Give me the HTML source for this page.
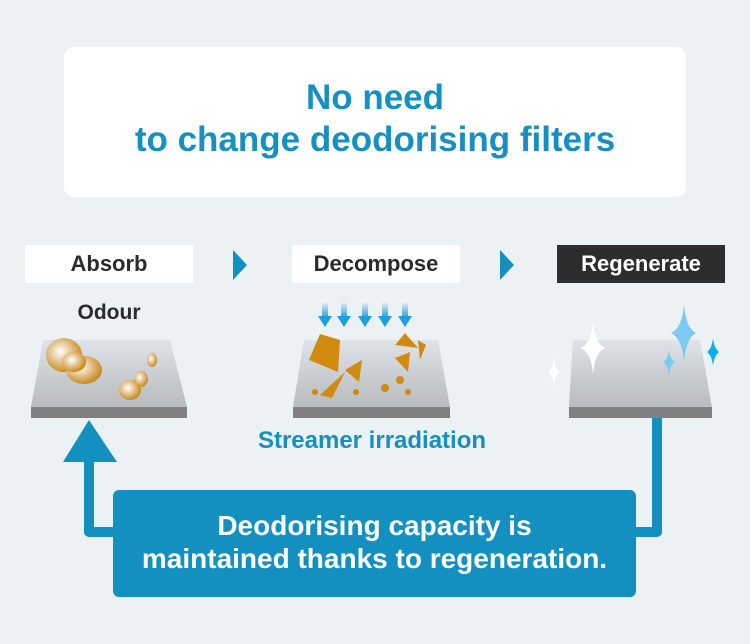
<!DOCTYPE html>
<html><head><meta charset="utf-8"><style>
body{margin:0;width:750px;height:644px;background:#ecf1f4;font-family:"Liberation Sans",sans-serif;position:relative;overflow:hidden}
.abs{position:absolute}
.top{left:64px;top:47px;width:622px;height:150px;background:#fff;border-radius:10px;text-align:center;color:#1590c0;font-weight:bold;font-size:35px;line-height:42px;padding-top:30px;box-sizing:border-box;white-space:nowrap}
.lab{top:245px;height:38px;width:168px;background:#fff;text-align:center;font-weight:bold;font-size:22px;line-height:38px;color:#2b2b2b}
.box{left:113px;top:490px;width:523px;height:107px;background:#1390c0;border-radius:6px;color:#fff;font-weight:bold;font-size:28px;line-height:33px;text-align:center;padding-top:19px;box-sizing:border-box;white-space:nowrap}
</style></head><body>
<div class="abs top">No need<br>to change deodorising filters</div>
<div class="abs lab" style="left:25px">Absorb</div>
<div class="abs lab" style="left:292px">Decompose</div>
<div class="abs lab" style="left:557px;background:#2d2d2d;color:#fff">Regenerate</div>
<div class="abs" style="left:59px;width:100px;text-align:center;top:301px;font-weight:bold;font-size:21px;color:#2b2b2b">Odour</div>
<div class="abs" style="left:222px;width:300px;text-align:center;top:427px;font-weight:bold;font-size:24px;color:#1590c0">Streamer irradiation</div>
<svg class="abs" style="left:0;top:0" width="750" height="644">
<defs>
<linearGradient id="pl" x1="0" y1="0" x2="0" y2="1"><stop offset="0" stop-color="#dde3e8"/><stop offset="1" stop-color="#b9bbbd"/></linearGradient>
<radialGradient id="gd" cx="0.4" cy="0.4" r="0.6"><stop offset="0" stop-color="#fff"/><stop offset="1" stop-color="#c98a20"/></radialGradient>
<linearGradient id="ar" x1="0" y1="0" x2="0" y2="1"><stop offset="0" stop-color="#1aa0e0" stop-opacity="0"/><stop offset="1" stop-color="#1aa0e0"/></linearGradient>
</defs>
<polygon points="233,250 247,265 233,280" fill="#1390c0"/>
<polygon points="500,250 514,265 500,280" fill="#1390c0"/>
<g>
<polygon points="43,340 170,340 187,407 31,407" fill="url(#pl)"/><rect x="31" y="407" width="156" height="11" fill="#808080"/>
<polygon points="304,340 438,340 450,407 293,407" fill="url(#pl)"/><rect x="293" y="407" width="157" height="11" fill="#808080"/>
<polygon points="573,340 700,340 712,407 569,407" fill="url(#pl)"/><rect x="569" y="407" width="143" height="11" fill="#808080"/>
</g>
<ellipse cx="64" cy="355" rx="18" ry="17" fill="url(#gd)"/><ellipse cx="84" cy="370" rx="18" ry="14" fill="url(#gd)"/><ellipse cx="74" cy="362" rx="12" ry="10" fill="url(#gd)"/>
<ellipse cx="152" cy="360" rx="5" ry="7" fill="url(#gd)"/><ellipse cx="130" cy="390" rx="11" ry="10" fill="url(#gd)"/><ellipse cx="141" cy="379" rx="7" ry="8" fill="url(#gd)"/>
<g fill="#d08a10">
<path d="M320,334 L340,340 L338,372 L309,360 Z"/><path d="M345,370 L362,360 L359,382 Z"/><path d="M345,372 L320,395 L332,398 Z"/>
<path d="M395,345 L405,333 L418,348 Z"/><path d="M395,358 L410,352 L408,372 Z"/><path d="M418,340 L426,345 L420,360 Z"/>
<circle cx="315" cy="392" r="3"/><circle cx="385" cy="388" r="4"/><circle cx="400" cy="380" r="4"/><circle cx="408" cy="392" r="3"/><circle cx="356" cy="392" r="3"/>
</g>
<g>
<rect x="322" y="302" width="6" height="16" fill="url(#ar)"/><polygon points="318,316 332,316 325,327" fill="#1aa0e0"/>
<rect x="341" y="302" width="6" height="16" fill="url(#ar)"/><polygon points="337,316 351,316 344,327" fill="#1aa0e0"/>
<rect x="362" y="302" width="6" height="16" fill="url(#ar)"/><polygon points="358,316 372,316 365,327" fill="#1aa0e0"/>
<rect x="382" y="302" width="6" height="16" fill="url(#ar)"/><polygon points="378,316 392,316 385,327" fill="#1aa0e0"/>
<rect x="402" y="302" width="6" height="16" fill="url(#ar)"/><polygon points="398,316 412,316 405,327" fill="#1aa0e0"/>
</g>
<path d="M593,322 Q595,345 606,348 Q595,351 593,374 Q591,351 580,348 Q591,345 593,322Z" fill="#fff"/>
<path d="M554,358 Q555,369 560,372 Q555,375 554,386 Q553,375 548,372 Q553,369 554,358Z" fill="#fff"/>
<path d="M684,305 Q686,328 696,333 Q686,338 684,362 Q682,338 671,333 Q682,328 684,305Z" fill="#7ccaf0"/>
<path d="M669,350 Q670,359 675,362 Q670,365 669,376 Q668,365 663,362 Q668,359 669,350Z" fill="#7ccaf0"/>
<path d="M713,338 Q714,348 719,352 Q714,356 713,366 Q712,356 707,352 Q712,348 713,338Z" fill="#0db0e8"/>
<polyline points="657,418 657,532 89,532 89,458" fill="none" stroke="#1390c0" stroke-width="10" stroke-linejoin="round"/>
<polygon points="89,420 117,462 63,462" fill="#1390c0"/>
</svg>
<div class="abs box">Deodorising capacity is<br>maintained thanks to regeneration.</div>
</body></html>
